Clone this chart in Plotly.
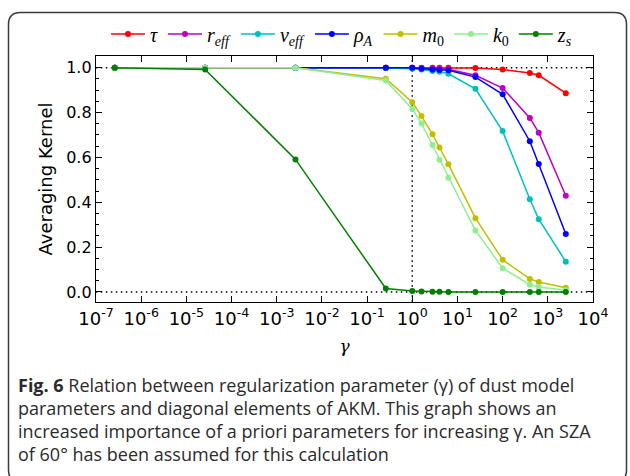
import plotly.graph_objects as go

# ---------------- data ----------------
gamma = [2.6e-7, 2.6e-5, 2.6e-3, 0.26, 1.0, 1.6, 2.8, 4.0, 6.3, 25, 100, 400, 630, 2500]

tau   = [1.0, 1.0, 1.0, 1.0, 1.0, 1.0, 1.0, 1.0, 1.0, 0.998, 0.992, 0.976, 0.966, 0.886]
r_eff = [1.0, 1.0, 1.0, 1.0, 1.0, 0.998, 0.997, 0.996, 0.993, 0.966, 0.909, 0.776, 0.710, 0.429]
v_eff = [1.0, 1.0, 1.0, 0.999, 0.995, 0.992, 0.985, 0.982, 0.973, 0.906, 0.717, 0.413, 0.324, 0.135]
rho_A = [1.0, 1.0, 1.0, 1.0, 1.0, 0.995, 0.992, 0.990, 0.988, 0.958, 0.881, 0.672, 0.570, 0.258]
m_0   = [1.0, 1.0, 1.0, 0.951, 0.846, 0.784, 0.703, 0.644, 0.569, 0.329, 0.143, 0.058, 0.044, 0.019]
k_0   = [1.0, 1.0, 1.0, 0.943, 0.816, 0.751, 0.655, 0.589, 0.509, 0.274, 0.106, 0.032, 0.022, 0.007]
z_s   = [1.0, 0.992, 0.591, 0.015, 0.004, 0.002, 0.001, 0.001, 0.0, 0.0, 0.0, 0.0, 0.0, 0.0]

series_names = ["<i>τ</i>", "<i>r</i><sub><i>eff</i></sub>", "<i>v</i><sub><i>eff</i></sub>",
                "<i>ρ</i><sub><i>A</i></sub>", "<i>m</i><sub>0</sub>", "<i>k</i><sub>0</sub>",
                "<i>z</i><sub><i>s</i></sub>"]
series_values = [tau, r_eff, v_eff, rho_A, m_0, k_0, z_s]
series_colors = ["#ff0000", "#bf00bf", "#00bfbf", "#0000ff", "#bfbf00", "#90ee90", "#008000"]

x_tick_vals = [1e-7, 1e-6, 1e-5, 1e-4, 1e-3, 1e-2, 1e-1, 1e0, 1e1, 1e2, 1e3, 1e4]
x_tick_text = ["10<sup>-7</sup>", "10<sup>-6</sup>", "10<sup>-5</sup>", "10<sup>-4</sup>",
               "10<sup>-3</sup>", "10<sup>-2</sup>", "10<sup>-1</sup>", "10<sup>0</sup>",
               "10<sup>1</sup>", "10<sup>2</sup>", "10<sup>3</sup>", "10<sup>4</sup>"]
y_tick_vals = [0.0, 0.2, 0.4, 0.6, 0.8, 1.0]
y_tick_text = ["0.0", "0.2", "0.4", "0.6", "0.8", "1.0"]

ref_h_levels = [0.0, 1.0]
ref_v_gamma = 1.0

caption_lines = [
    "<b>Fig. 6</b> Relation between regularization parameter (γ) of dust model",
    "parameters and diagonal elements of AKM. This graph shows an",
    "increased importance of a priori parameters for increasing γ. An SZA",
    "of 60° has been assumed for this calculation",
]

# ---------------- layout geometry ----------------
W, H = 630, 476
ML, MR, MT, MB = 96, 37, 56, 174
PW, PH = W - ML - MR, H - MT - MB


def px(x):
    return (x - ML) / PW


def py(y):
    return 1 - (y - MT) / PH


fig = go.Figure()

# reference dotted lines
for lvl in ref_h_levels:
    fig.add_trace(go.Scatter(x=[1e-8, 1e5], y=[lvl, lvl], mode="lines",
                             line=dict(color="black", width=1.5, dash="1.5px,3.5px"),
                             showlegend=False, hoverinfo="skip"))
fig.add_trace(go.Scatter(x=[ref_v_gamma, ref_v_gamma], y=[-0.2, 1.2], mode="lines",
                         line=dict(color="black", width=1.5, dash="1.5px,3.5px"),
                         showlegend=False, hoverinfo="skip"))

for name, vals, col in zip(series_names, series_values, series_colors):
    fig.add_trace(go.Scatter(x=gamma, y=vals, mode="lines+markers", name=name,
                             line=dict(color=col, width=1.5),
                             marker=dict(color=col, size=6)))

# card border (rounded rectangle)
L, T, R, B, rad = 8.5, 12.5, 626.5, 482, 12
path = (f"M {px(L)},{py(T + rad)} "
        f"Q {px(L)},{py(T)} {px(L + rad)},{py(T)} "
        f"L {px(R - rad)},{py(T)} "
        f"Q {px(R)},{py(T)} {px(R)},{py(T + rad)} "
        f"L {px(R)},{py(B - rad)} "
        f"Q {px(R)},{py(B)} {px(R - rad)},{py(B)} "
        f"L {px(L + rad)},{py(B)} "
        f"Q {px(L)},{py(B)} {px(L)},{py(B - rad)} Z")
fig.add_shape(type="path", path=path, xref="paper", yref="paper",
              line=dict(color="#3a3a3a", width=1.5), layer="below")

# caption
cap_y = [385, 408, 431, 454]
for txt, yy in zip(caption_lines, cap_y):
    fig.add_annotation(text=txt, xref="paper", yref="paper", x=px(16), y=py(yy),
                       xanchor="left", yanchor="middle", showarrow=False,
                       font=dict(family="Open Sans", size=18, color="#2b2b2b"))

fig.update_layout(
    width=W, height=H,
    margin=dict(l=ML, r=MR, t=MT, b=MB),
    paper_bgcolor="white", plot_bgcolor="white",
    showlegend=True,
    legend=dict(orientation="h", x=px(106), y=py(34), xanchor="left", yanchor="middle",
                font=dict(family="Liberation Serif", size=20, color="black"),
                bgcolor="rgba(0,0,0,0)", itemwidth=34, tracegroupgap=0),
    xaxis=dict(type="log", range=[-7, 4], tickvals=x_tick_vals, ticktext=x_tick_text,
               ticks="inside", ticklen=6, tickwidth=1, tickcolor="black",
               showline=True, linecolor="black", linewidth=1.3, mirror="allticks",
               showgrid=False, zeroline=False,
               tickfont=dict(family="DejaVu Sans", size=18, color="black"),
               title=dict(text="<i>γ</i>", font=dict(family="DejaVu Serif", size=17, color="black"),
                          standoff=12)),
    yaxis=dict(range=[-0.045, 1.052], tickvals=y_tick_vals, ticktext=y_tick_text,
               ticks="inside", ticklen=6, tickwidth=1, tickcolor="black",
               minor=dict(ticks="inside", dtick=0.05, tick0=0, ticklen=3, tickcolor="black", showgrid=False),
               showline=True, linecolor="black", linewidth=1.3, mirror="allticks",
               showgrid=False, zeroline=False,
               tickfont=dict(family="DejaVu Sans", size=16, color="black"),
               title=dict(text="Averaging Kernel", font=dict(family="DejaVu Sans", size=18, color="black"),
                          standoff=8)),
)

fig.write_html("out.html")
